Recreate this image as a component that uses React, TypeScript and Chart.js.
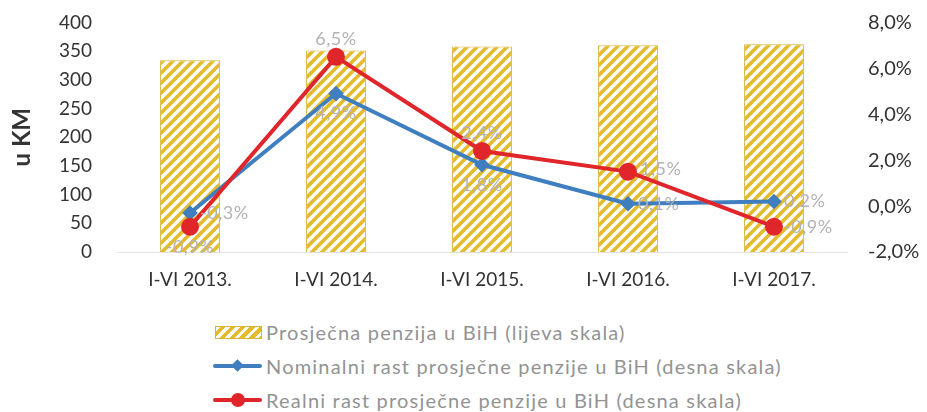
import React, { useEffect, useRef } from "react";
import { Chart, registerables } from "chart.js";

Chart.register(...registerables);

const categories = ["I-VI 2013.", "I-VI 2014.", "I-VI 2015.", "I-VI 2016.", "I-VI 2017."];
const avgPension = [334, 351, 358, 360, 362];
const nominalGrowth = [-0.3, 4.9, 1.8, 0.1, 0.2];
const realGrowth = [-0.9, 6.5, 2.4, 1.5, -0.9];
const nominalLabelPos = ["right", "below", "below", "right", "right"];
const realLabelPos = ["below", "above", "above", "upright", "right"];
const legendLabels = [
  "Prosječna penzija u BiH (lijeva skala)",
  "Nominalni rast prosječne penzije u BiH (desna skala)",
  "Realni rast prosječne penzije u BiH (desna skala)",
];

const FONT = "Lato, 'Open Sans', sans-serif";
const BLUE = "#3f7fbf";
const RED = "#e0262a";
const GOLD = "#e3bb2c";

function fmtPct(v: number) {
  return v.toFixed(1).replace(".", ",") + "%";
}

function makeHatch(): CanvasPattern | string {
  const c = document.createElement("canvas");
  c.width = 10;
  c.height = 10;
  const ctx = c.getContext("2d");
  if (!ctx) return GOLD;
  ctx.fillStyle = "#ffffff";
  ctx.fillRect(0, 0, 10, 10);
  ctx.strokeStyle = GOLD;
  ctx.lineWidth = 3.6;
  ctx.lineCap = "square";
  const segs = [
    [-5, 5, 5, -5],
    [0, 10, 10, 0],
    [5, 15, 15, 5],
  ];
  segs.forEach(([a, b, c2, d]) => {
    ctx.beginPath();
    ctx.moveTo(a, b);
    ctx.lineTo(c2, d);
    ctx.stroke();
  });
  const p = ctx.createPattern(c, "repeat");
  return p || GOLD;
}

const labelPlugin = {
  id: "pointLabels",
  afterDatasetsDraw(chart: any) {
    const ctx = chart.ctx;
    ctx.save();
    ctx.font = `18px ${FONT}`;
    (ctx as any).letterSpacing = "0.5px";
    ctx.fillStyle = "#b3b3b3";
    chart.data.datasets.forEach((ds: any, di: number) => {
      if (!ds.labelPos) return;
      const meta = chart.getDatasetMeta(di);
      meta.data.forEach((pt: any, i: number) => {
        const txt = fmtPct(ds.data[i]);
        const pos = ds.labelPos[i];
        let x = pt.x;
        let y = pt.y;
        ctx.textAlign = "center";
        ctx.textBaseline = "middle";
        if (pos === "above") y -= 18;
        else if (pos === "below") y += 20;
        else if (pos === "right") {
          ctx.textAlign = "left";
          x += 10;
        } else if (pos === "upright") {
          ctx.textAlign = "left";
          x += 12;
          y -= 2;
        }
        ctx.fillText(txt, x, y);
      });
    });
    ctx.restore();
  },
};

export default function App() {
  const ref = useRef<HTMLCanvasElement | null>(null);

  useEffect(() => {
    if (!ref.current) return;
    const hatch = makeHatch();
    const chart = new Chart(ref.current, {
      type: "bar",
      data: {
        labels: categories,
        datasets: [
          {
            type: "line",
            label: legendLabels[2],
            data: realGrowth,
            yAxisID: "y1",
            borderColor: RED,
            backgroundColor: RED,
            borderWidth: 4,
            pointRadius: 7,
            pointStyle: "circle",
            pointBackgroundColor: RED,
            pointBorderColor: RED,
            tension: 0,
            order: 1,
            labelPos: realLabelPos,
          } as any,
          {
            type: "line",
            label: legendLabels[1],
            data: nominalGrowth,
            yAxisID: "y1",
            borderColor: BLUE,
            backgroundColor: BLUE,
            borderWidth: 4,
            pointRadius: 5,
            pointStyle: "rectRot",
            pointBackgroundColor: BLUE,
            pointBorderColor: BLUE,
            tension: 0,
            order: 2,
            labelPos: nominalLabelPos,
          } as any,
          {
            type: "bar",
            label: legendLabels[0],
            data: avgPension,
            yAxisID: "y",
            backgroundColor: hatch as any,
            borderColor: "#d8b436",
            borderWidth: 1,
            categoryPercentage: 1,
            barPercentage: 0.41,
            order: 3,
          } as any,
        ],
      },
      options: {
        animation: false,
        responsive: true,
        maintainAspectRatio: false,
        layout: { padding: { top: 0, left: 0, right: 0, bottom: 0 } },
        plugins: {
          legend: { display: false },
          tooltip: { enabled: false },
        },
        scales: {
          x: {
            grid: { display: false, drawTicks: false },
            border: { display: true, color: "#e2e2e2", width: 1 },
            ticks: {
              color: "#333333",
              font: { family: FONT, size: 19 },
              padding: 16,
            },
            afterFit: (s: any) => {
              s.height = 46;
            },
          },
          y: {
            position: "left",
            min: 0,
            max: 400,
            ticks: {
              stepSize: 50,
              autoSkip: false,
              color: "#333333",
              font: { family: FONT, size: 19 },
              padding: 25,
            },
            grid: { display: false, drawTicks: false },
            border: { display: false },
            title: {
              display: true,
              text: "u KM",
              color: "#333333",
              font: { family: FONT, size: 24, weight: "bold" },
              padding: { top: 0, bottom: 0 },
            },
            afterFit: (s: any) => {
              s.width = 109;
            },
          },
          y1: {
            position: "right",
            min: -2,
            max: 8,
            ticks: {
              stepSize: 2,
              autoSkip: false,
              color: "#333333",
              font: { family: FONT, size: 20 },
              padding: 21,
              callback: (v: any) => fmtPct(Number(v)),
            },
            grid: { display: false, drawTicks: false },
            border: { display: false },
            afterFit: (s: any) => {
              s.width = 72;
            },
          },
        },
      },
      plugins: [labelPlugin],
    });
    return () => chart.destroy();
  }, []);

  const legendText: React.CSSProperties = {
    fontFamily: FONT,
    fontSize: 20,
    letterSpacing: "1.2px",
    color: "#939393",
    marginLeft: 4,
    whiteSpace: "nowrap",
  };
  const row: React.CSSProperties = {
    display: "flex",
    alignItems: "center",
    height: 34,
  };
  const lineSwatch = (color: string, marker: React.ReactNode) => (
    <div style={{ position: "relative", width: 49, height: 14 }}>
      <div
        style={{
          position: "absolute",
          left: 0,
          right: 0,
          top: 5,
          height: 4,
          background: color,
          borderRadius: 2,
        }}
      />
      {marker}
    </div>
  );

  return (
    <div style={{ position: "relative", width: 911, height: 404 }}>
      <div style={{ position: "absolute", left: 0, top: -22, width: 911, height: 312 }}>
        <canvas ref={ref} />
      </div>
      <div style={{ position: "absolute", left: 205, top: 307 }}>
        <div style={row}>
          <div
            style={{
              width: 47,
              height: 13,
              marginLeft: 2,
              boxSizing: "border-box",
              border: "1px solid #d8b436",
              background: `repeating-linear-gradient(135deg, #ffffff 0px, #ffffff 3px, ${GOLD} 3px, ${GOLD} 7px)`,
            }}
          />
          <span style={legendText}>{legendLabels[0]}</span>
        </div>
        <div style={row}>
          {lineSwatch(
            BLUE,
            <div
              style={{
                position: "absolute",
                left: 20,
                top: 2,
                width: 9,
                height: 9,
                background: BLUE,
                transform: "rotate(45deg)",
              }}
            />
          )}
          <span style={legendText}>{legendLabels[1]}</span>
        </div>
        <div style={row}>
          {lineSwatch(
            RED,
            <div
              style={{
                position: "absolute",
                left: 18,
                top: 0,
                width: 14,
                height: 14,
                background: RED,
                borderRadius: "50%",
              }}
            />
          )}
          <span style={legendText}>{legendLabels[2]}</span>
        </div>
      </div>
    </div>
  );
}
